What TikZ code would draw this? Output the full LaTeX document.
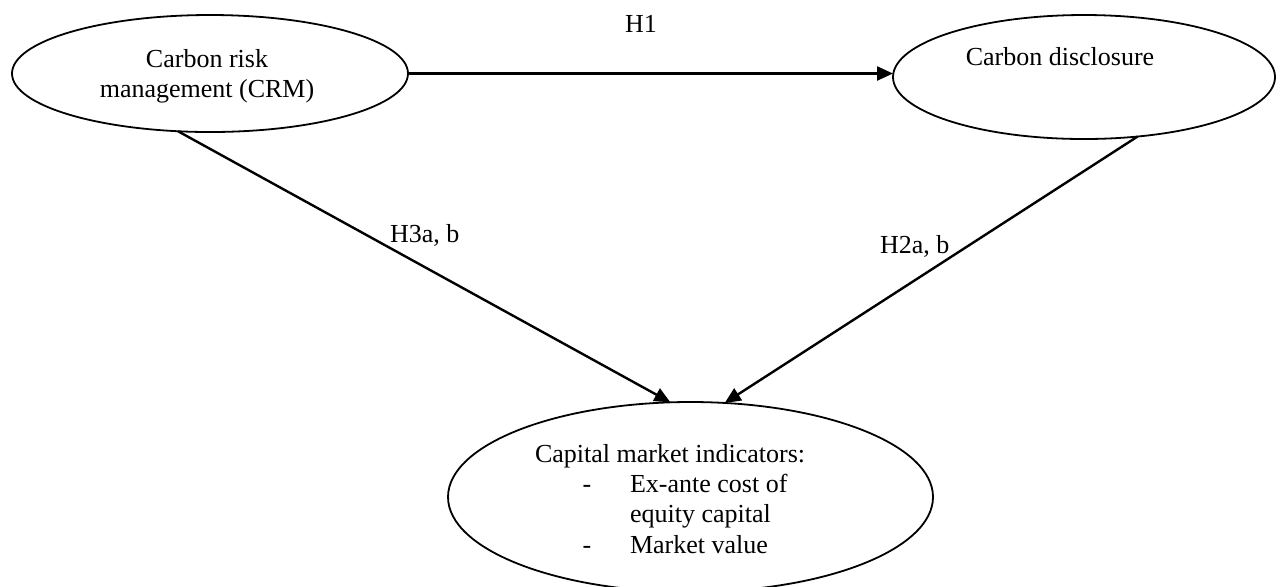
\documentclass[tikz,border=0pt]{standalone}
\usepackage{fontspec}
\setmainfont{Liberation Serif}
\usetikzlibrary{shapes.geometric,arrows.meta}
\begin{document}
\begin{tikzpicture}[x=0.5pt,y=-0.5pt,
  every node/.style={font=\fontsize{13pt}{15pt}\selectfont},
  oval/.style={draw,ellipse,line width=0.9pt,inner sep=0pt,outer sep=0pt},
  txt/.style={inner sep=0pt,outer sep=0pt},
  link/.style={line width=1.2pt,-{Triangle[length=8pt,width=7pt]}}]
\useasboundingbox (0,0) rectangle (1283,586);
\begin{scope}
\clip (0,0) rectangle (1283,586);
\node[oval,minimum width=198pt,minimum height=58.5pt] (crm) at (210,73.5) {};
\node[oval,minimum width=191pt,minimum height=62pt] (cd) at (1084,77) {};
\node[oval,minimum width=242.5pt,minimum height=95pt] (cap) at (690.5,497) {};
\end{scope}
% texts
\node[txt,anchor=base] (crm1) at (207,67) {Carbon risk};
\node[txt,anchor=base] (crm2) at (207,97) {management (CRM)};
\node[txt,anchor=base] (cd1) at (1060,65) {Carbon disclosure};
\node[txt,anchor=base west] (cap1) at (535,462) {Capital market indicators:};
\node[txt,anchor=base] (d1) at (587,492) {-};
\node[txt,anchor=base west] (i1) at (630,492) {Ex-ante cost of};
\node[txt,anchor=base west] (i2) at (630,522) {equity capital};
\node[txt,anchor=base] (d2) at (587,553) {-};
\node[txt,anchor=base west] (i3) at (630,553) {Market value};
% connectors
\draw[link] (crm.east) -- (crm.east -| cd.west);
\draw[link] (crm.-119) -- (cap.102);
\draw[link] (cd.-48) -- (cap.70);
% labels
\node[txt,anchor=base] (h1) at (641,32) {H1};
\node[txt,anchor=base west] (h3) at (390,242) {H3a, b};
\node[txt,anchor=base west] (h2) at (880,253) {H2a, b};
\end{tikzpicture}
\end{document}
